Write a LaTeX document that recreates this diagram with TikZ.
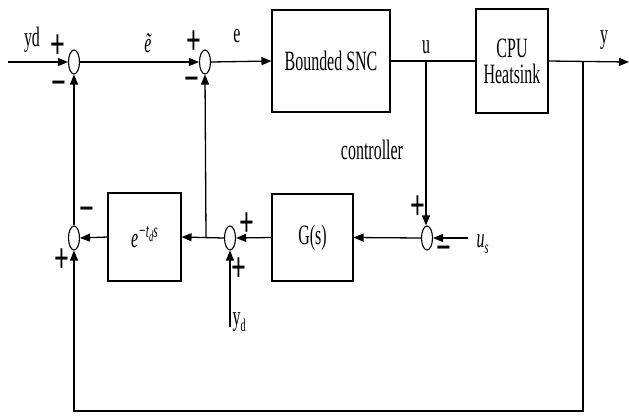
\documentclass[tikz,border=0pt]{standalone}
\usepackage{fontspec}
\setmainfont{Liberation Serif}
\usepackage{graphicx}
\usetikzlibrary{shapes.geometric,arrows.meta}
\newcommand{\sq}[1]{\scalebox{0.57}[1]{#1}}
\newcommand{\sqs}[1]{\scalebox{0.62}[1]{#1}}
\begin{document}
\begin{tikzpicture}[x=1pt,y=-1pt,
  line width=1.3pt,
  every node/.style={font=\fontsize{28}{30}\selectfont},
  blk/.style={draw,line width=1.1pt,inner sep=0pt,align=center},
  sumj/.style={draw,ellipse,line width=1.1pt,minimum width=11pt,minimum height=24pt,inner sep=0pt},
  sgn/.style={font=\fontsize{42}{42}\selectfont\bfseries,inner sep=0pt},
  lbl/.style={inner sep=0pt},
  arr/.style={-{Triangle[length=10pt,width=8pt]}}]
\useasboundingbox (0,0) rectangle (629,416);
% blocks
\node[blk,minimum width=118pt,minimum height=102pt] (snc) at (331,61) {\sq{Bounded SNC}};
\node[blk,minimum width=72pt,minimum height=104pt] (cpu) at (512,61) {\sq{CPU}\\[-4pt]\sq{Heatsink}};
\node[blk,minimum width=73pt,minimum height=88pt] (dly) at (144.5,237) {\sq{\itshape e\raisebox{10pt}{\fontsize{20}{20}\selectfont −t\raisebox{-4pt}{\fontsize{15}{15}\selectfont d}s}}};
\node[blk,minimum width=81pt,minimum height=87pt] (g) at (312.5,237.5) {\sq{G(s)}};
% summing junctions
\node[sumj] (s1) at (74,62) {};
\node[sumj] (s2) at (205,62) {};
\node[sumj] (s3) at (74,238) {};
\node[sumj] (s5) at (230,238) {};
\node[sumj] (s4) at (427,238) {};
% coordinates
\coordinate (in) at (8,62);
\coordinate (out) at (629,62);
\coordinate (fb) at (583,62);
\coordinate (fbr) at (583,411);
\coordinate (fbl) at (74,411);
\coordinate (ub) at (426,62);
\coordinate (us) at (468,238);
\coordinate (ydin) at (230,327);
\coordinate (br) at (206,238);
% top path
\draw[arr] (in) -- (s1.west);
\draw[arr] (s1.east) -- (s2.west);
\draw[arr] (s2.east) -- (snc.west);
\draw (snc.east) -- (cpu.west);
\draw[arr] (cpu.east) -- (out);
% feedback
\draw[arr] (fb) -- (fbr) -- (fbl) -- (s3.south);
\draw[arr] (ub) -- (ub |- s4.north);
\draw[arr] (us) -- (s4.east);
\draw[arr] (s4.west) -- (g.east);
\draw[arr] (g.west) -- (s5.east);
\draw[arr] (ydin) -- (s5.south);
\draw[arr] (s5.west) -- (dly.east);
\draw[arr] (br) -- (s2.south);
\draw[arr] (dly.west) -- (s3.east);
\draw[arr] (s3.north) -- (s1.south);
% signal labels
\node[lbl] (lyd) at (32,40) {\sq{yd}};
\node[lbl] (let) at (148,43) {\sq{\itshape\~{e}}};
\node[lbl] (le) at (237,36) {\sq{e}};
\node[lbl] (lu) at (426,47) {\sq{u}};
\node[lbl] (ly) at (604,40) {\sq{y}};
\node[lbl] (lctl) at (372,150) {\sq{controller}};
\node[lbl,anchor=west] (lus) at (476,244) {\sq{\itshape u\raisebox{-6pt}{\fontsize{18}{18}\selectfont s}}};
\node[lbl,anchor=west] (lyd2) at (232,322) {\sq{y\raisebox{-6pt}{\fontsize{18}{18}\selectfont d}}};
% signs
\node[sgn] (p1) at (58,47) {\sqs{+}};
\node[sgn] (m1) at (59,89) {\sqs{−}};
\node[sgn] (p2) at (194,43) {\sqs{+}};
\node[sgn] (m2) at (192,85) {\sqs{−}};
\node[sgn] (m3) at (87,215) {\sqs{−}};
\node[sgn] (p3) at (62,261) {\sqs{+}};
\node[sgn] (p5a) at (247,225) {\sqs{+}};
\node[sgn] (p5b) at (239,270) {\sqs{+}};
\node[sgn] (p4) at (418,208) {\sqs{+}};
\node[sgn] (m4) at (444,254) {\sqs{−}};
\end{tikzpicture}
\end{document}
